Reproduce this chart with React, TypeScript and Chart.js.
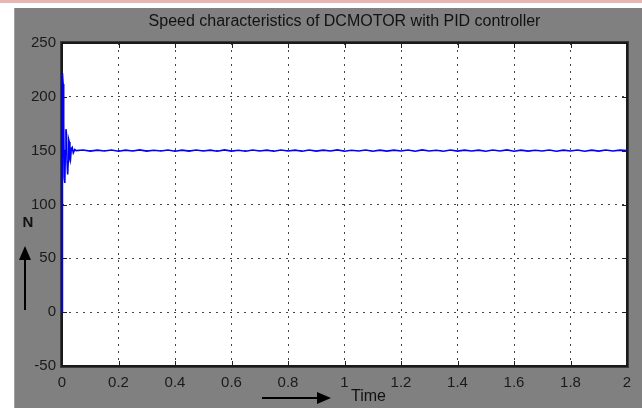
import React, { useEffect, useRef } from "react";
import { Chart, registerables } from "chart.js";

Chart.register(...registerables);

const TITLE = "Speed characteristics of DCMOTOR with PID controller";
const X_LABEL = "Time";
const Y_LABEL = "N";

const X_MIN = 0;
const X_MAX = 2;
const X_STEP = 0.2;
const Y_MIN = -50;
const Y_MAX = 250;
const Y_STEP = 50;

// start-up transient (time in s, speed)
const transientTime = [
  0, 0.001, 0.002, 0.004, 0.006, 0.008, 0.01, 0.012, 0.014, 0.016,
  0.018, 0.02, 0.022, 0.024, 0.026, 0.028, 0.03, 0.033, 0.036, 0.04,
  0.045, 0.05,
];
const transientSpeed = [
  0, 220, 222, 212, 175, 125, 120, 150, 170, 165,
  140, 128, 140, 160, 158, 145, 142, 152, 153, 148,
  151, 150,
];

// steady state with small ripple
const steadyTime = [
  0.075, 0.1, 0.125, 0.15, 0.175, 0.2, 0.225, 0.25, 0.275, 0.3,
  0.325, 0.35, 0.375, 0.4, 0.425, 0.45, 0.475, 0.5, 0.525, 0.55,
  0.575, 0.6, 0.625, 0.65, 0.675, 0.7, 0.725, 0.75, 0.775, 0.8,
  0.825, 0.85, 0.875, 0.9, 0.925, 0.95, 0.975, 1.0, 1.025, 1.05,
  1.075, 1.1, 1.125, 1.15, 1.175, 1.2, 1.225, 1.25, 1.275, 1.3,
  1.325, 1.35, 1.375, 1.4, 1.425, 1.45, 1.475, 1.5, 1.525, 1.55,
  1.575, 1.6, 1.625, 1.65, 1.675, 1.7, 1.725, 1.75, 1.775, 1.8,
  1.825, 1.85, 1.875, 1.9, 1.925, 1.95, 1.975, 2.0,
];
const steadySpeed = [
  150.6, 149.6, 150.5, 149.7, 150.6, 149.5, 150.5, 149.7, 150.7, 149.6,
  150.4, 149.7, 150.6, 149.5, 150.5, 149.6, 150.6, 149.7, 150.5, 149.5,
  150.7, 149.6, 150.4, 149.5, 150.6, 149.7, 150.5, 149.5, 150.6, 149.7,
  150.5, 149.5, 150.6, 149.6, 150.5, 149.7, 150.7, 149.5, 150.4, 149.7,
  150.6, 149.5, 150.5, 149.6, 150.5, 149.7, 150.6, 149.5, 150.7, 149.7,
  150.4, 149.5, 150.6, 149.6, 150.5, 149.7, 150.5, 149.5, 150.6, 149.7,
  150.7, 149.5, 150.5, 149.6, 150.4, 149.7, 150.6, 149.5, 150.5, 149.7,
  150.6, 149.5, 150.5, 149.6, 150.6, 149.7, 150.5, 150.1,
];

const FONT = "'Liberation Sans', Arial, Helvetica, sans-serif";

const framePlugin = {
  id: "matlabFrame",
  beforeDraw(chart: any) {
    const { ctx, chartArea } = chart;
    ctx.save();
    ctx.fillStyle = "#ffffff";
    ctx.fillRect(chartArea.left, chartArea.top, chartArea.right - chartArea.left, chartArea.bottom - chartArea.top);
    ctx.restore();
  },
  beforeDatasetsDraw(chart: any) {
    const { ctx, chartArea, scales } = chart;
    const { left, right, top, bottom } = chartArea;
    ctx.save();
    ctx.strokeStyle = "#222";
    ctx.lineWidth = 1;
    const tl = 5;
    scales.x.ticks.forEach((t: any) => {
      const px = Math.round(scales.x.getPixelForValue(t.value)) + 0.5;
      ctx.beginPath();
      ctx.moveTo(px, bottom);
      ctx.lineTo(px, bottom - tl);
      ctx.moveTo(px, top);
      ctx.lineTo(px, top + tl);
      ctx.stroke();
    });
    scales.y.ticks.forEach((t: any) => {
      const py = Math.round(scales.y.getPixelForValue(t.value)) + 0.5;
      ctx.beginPath();
      ctx.moveTo(left, py);
      ctx.lineTo(left + tl, py);
      ctx.moveTo(right, py);
      ctx.lineTo(right - tl, py);
      ctx.stroke();
    });
    ctx.strokeStyle = "#3a3a3a";
    ctx.lineWidth = 3;
    ctx.strokeRect(left - 0.5, top - 0.5, right - left + 1, bottom - top + 1);
    ctx.strokeStyle = "#111";
    ctx.lineWidth = 1.5;
    ctx.strokeRect(left, top, right - left, bottom - top);
    ctx.restore();
  },
  afterDraw(chart: any) {
    const { ctx, chartArea } = chart;
    const cx = (chartArea.left + chartArea.right) / 2;
    ctx.save();
    ctx.fillStyle = "#111";
    ctx.textAlign = "center";
    ctx.textBaseline = "middle";
    ctx.font = `16px ${FONT}`;
    ctx.fillText(TITLE, cx, 22);

    ctx.font = `bold 15px ${FONT}`;
    ctx.fillText(Y_LABEL, 28, 223);
    ctx.strokeStyle = "#000";
    ctx.fillStyle = "#000";
    ctx.lineWidth = 2;
    ctx.beginPath();
    ctx.moveTo(25, 310);
    ctx.lineTo(25, 258);
    ctx.stroke();
    ctx.beginPath();
    ctx.moveTo(25, 246);
    ctx.lineTo(19, 260);
    ctx.lineTo(31, 260);
    ctx.closePath();
    ctx.fill();

    ctx.beginPath();
    ctx.moveTo(262, 398);
    ctx.lineTo(319, 398);
    ctx.stroke();
    ctx.beginPath();
    ctx.moveTo(331, 398);
    ctx.lineTo(317, 392);
    ctx.lineTo(317, 404);
    ctx.closePath();
    ctx.fill();
    ctx.fillStyle = "#111";
    ctx.font = `16px ${FONT}`;
    ctx.textAlign = "left";
    ctx.fillText(X_LABEL, 351, 397);
    ctx.restore();
  },
};

export default function App() {
  const canvasRef = useRef<HTMLCanvasElement | null>(null);

  useEffect(() => {
    document.body.style.margin = "0";
    const canvas = canvasRef.current;
    if (!canvas) return;
    const points = [
      ...transientTime.map((t, i) => ({ x: t, y: transientSpeed[i] })),
      ...steadyTime.map((t, i) => ({ x: t, y: steadySpeed[i] })),
    ];
    const chart = new Chart(canvas, {
      type: "line",
      data: {
        datasets: [
          {
            data: points,
            borderColor: "#0000ff",
            borderWidth: 1.6,
            pointRadius: 0,
            tension: 0,
            fill: false,
            clip: false as any,
          },
        ],
      },
      options: {
        animation: false,
        responsive: false,
        maintainAspectRatio: false,
        layout: { padding: { left: 0, right: 15, top: 43, bottom: 0 } },
        plugins: {
          legend: { display: false },
          tooltip: { enabled: false },
          title: { display: false },
        },
        scales: {
          x: {
            type: "linear",
            min: X_MIN,
            max: X_MAX,
            ticks: {
              stepSize: X_STEP,
              color: "#1a1a1a",
              font: { family: FONT, size: 15 },
              padding: 8,
              maxRotation: 0,
              autoSkip: false,
              callback: (v: any) => String(Number(Number(v).toFixed(1))),
            },
            grid: { color: "#444", lineWidth: 1, drawTicks: false },
            border: { display: false, dash: [2, 5] },
            afterFit: (s: any) => {
              s.height = 42;
            },
          },
          y: {
            type: "linear",
            min: Y_MIN,
            max: Y_MAX,
            ticks: {
              stepSize: Y_STEP,
              color: "#1a1a1a",
              font: { family: FONT, size: 15 },
              padding: 6,
            },
            grid: { color: "#444", lineWidth: 1, drawTicks: false },
            border: { display: false, dash: [2, 5] },
            afterFit: (s: any) => {
              s.width = 62;
            },
          },
        },
      },
      plugins: [framePlugin],
    });
    return () => chart.destroy();
  }, []);

  return (
    <div style={{ position: "relative", width: 642, height: 408, background: "#ffffff", overflow: "hidden" }}>
      <div style={{ position: "absolute", left: 0, top: 0, width: 642, height: 3, background: "#e9b4b4" }} />
      <div style={{ position: "absolute", left: 14, top: 8, width: 628, height: 400, background: "#808080", borderLeft: "1px solid #a0a0a0" }} />
      <canvas ref={canvasRef} width={642} height={408} style={{ position: "absolute", left: 0, top: 0, width: 642, height: 408 }} />
    </div>
  );
}
